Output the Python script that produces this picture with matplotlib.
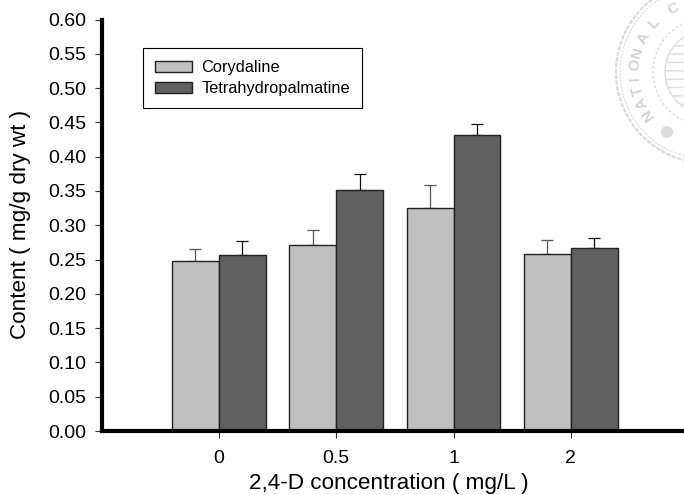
import numpy as np
import matplotlib
matplotlib.use('Agg')
import matplotlib.pyplot as plt
from matplotlib.patches import Circle

plt.rcParams['font.family'] = ['Liberation Sans', 'DejaVu Sans']
plt.rcParams['hatch.linewidth'] = 1.0

categories = ['0', '0.5', '1', '2']
series_names = ['Corydaline', 'Tetrahydropalmatine']
corydaline = [0.248, 0.271, 0.325, 0.258]
tetrahydro = [0.257, 0.351, 0.432, 0.267]
corydaline_err = [0.017, 0.022, 0.034, 0.020]
tetrahydro_err = [0.020, 0.023, 0.015, 0.014]
y_ticks = [0.00, 0.05, 0.10, 0.15, 0.20, 0.25, 0.30, 0.35, 0.40, 0.45, 0.50, 0.55, 0.60]
seal_letters = list('NATIONAL') + ['C']
seal_angles = [215, 205, 195, 185, 174, 164, 152, 137, 118]

W, H = 684, 495
fig = plt.figure(figsize=(W / 100, H / 100), dpi=100)

# faint seal in the corner, behind the plot
bg = fig.add_axes([0, 0, 1, 1], zorder=-1)
bg.set_xlim(0, W); bg.set_ylim(H, 0); bg.axis('off')
cx, cy = 707, 72
seal = '#dcdcdc'
bg.add_patch(Circle((cx, cy), 91, fill=False, ec=seal, lw=1.6, ls=(0, (2, 0.6))))
bg.add_patch(Circle((cx, cy), 87, fill=False, ec=seal, lw=0.8, ls=(0, (2, 1))))
bg.add_patch(Circle((cx, cy), 54, fill=False, ec=seal, lw=1.0, ls=(0, (2, 1.5))))
bg.add_patch(Circle((cx, cy), 42, fill=False, ec=seal, hatch='--', lw=1.0))
bg.add_patch(Circle((667, 132), 6, fc=seal, ec='none'))
for ch, ang in zip(seal_letters, seal_angles):
    a = np.deg2rad(ang)
    bg.text(cx + 72 * np.cos(a), cy - 72 * np.sin(a), ch, color='#d4d4d4', fontsize=11,
            fontweight='bold', ha='center', va='center', rotation=ang - 90,
            rotation_mode='anchor')

ax = fig.add_axes([102 / W, 1 - 431 / H, (684 - 102) / W, (431 - 19.5) / H])
ax.patch.set_alpha(0)
x = np.arange(len(categories))
w = 0.4
err_kw = dict(ecolor='#111111', elinewidth=0.9, capsize=4.5, capthick=0.9, zorder=1)
b1 = ax.bar(x - w / 2, corydaline, w, yerr=[np.zeros(4), corydaline_err], color='#bfbfbf',
            edgecolor='#222222', linewidth=1.0, zorder=2,
            error_kw={**err_kw, 'ecolor': '#555555'}, label=series_names[0])
b2 = ax.bar(x + w / 2, tetrahydro, w, yerr=[np.zeros(4), tetrahydro_err], color='#606060',
            edgecolor='#222222', linewidth=1.0, zorder=2, error_kw=err_kw, label=series_names[1])

ax.set_xlim(-0.997, 3.965)
ax.set_ylim(0, 0.6)
ax.set_xticks(x, categories)
ax.set_yticks(y_ticks, [f'{v:.2f}' for v in y_ticks])
ax.tick_params(axis='both', labelsize=14, length=5, width=0.8, color='#333333')
ax.tick_params(axis='y', pad=6.5)
ax.tick_params(axis='x', length=5, pad=9)
for s in ('top', 'right'):
    ax.spines[s].set_visible(False)
for s in ('left', 'bottom'):
    ax.spines[s].set_linewidth(3)
    ax.spines[s].set_zorder(5)
ax.set_xlabel('2,4-D concentration ( mg/L )', fontsize=16.2)
ax.set_ylabel('Content ( mg/g dry wt )', fontsize=16.2)
ax.xaxis.set_label_coords((389 - 102) / (684 - 102), (431 - 484) / 411.5)
ax.xaxis.label.set_va('center')
ax.yaxis.set_label_coords((21 - 102) / (684 - 102), (431 - 224) / 411.5)
ax.yaxis.label.set_va('center')

leg = ax.legend(handles=[b1, b2], loc='upper left',
                bbox_to_anchor=((143 - 102) / (684 - 102), 1 - (48 - 19.5) / 411.5),
                borderaxespad=0, fontsize=11.8, fancybox=False, framealpha=1, edgecolor='black',
                handlelength=2.26, handleheight=0.72, handletextpad=0.55, labelspacing=0.36,
                borderpad=0.75)
leg.get_frame().set_linewidth(0.8)

fig.savefig('out.png', dpi=100)
